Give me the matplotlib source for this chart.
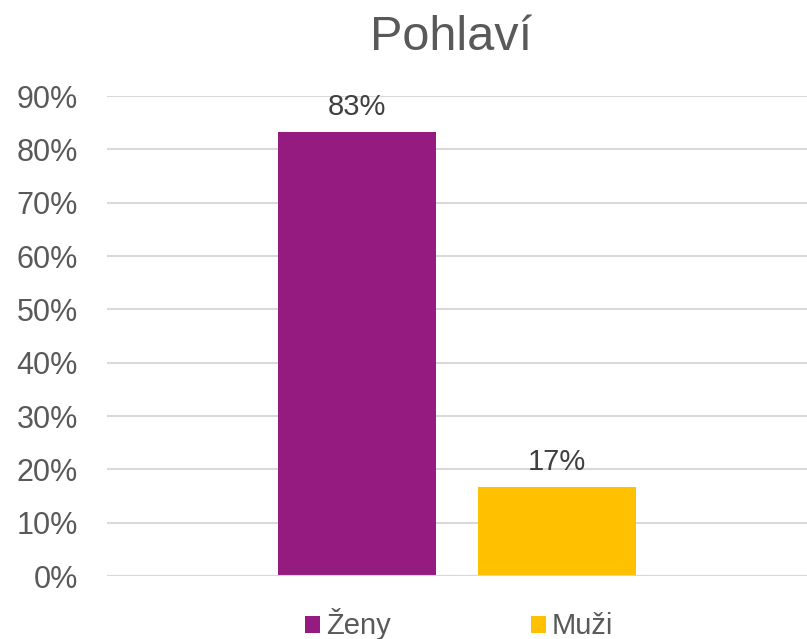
import matplotlib
matplotlib.use("Agg")
import matplotlib.pyplot as plt
from matplotlib.patches import Patch

title = "Pohlaví"
series = ["Ženy", "Muži"]
values = [0.833, 0.167]
labels = ["83%", "17%"]
colors = ["#951B81", "#FFC000"]
yticks = [0, 0.1, 0.2, 0.3, 0.4, 0.5, 0.6, 0.7, 0.8, 0.9]
ytick_labels = ["0%", "10%", "20%", "30%", "40%", "50%", "60%", "70%", "80%", "90%"]

plt.rcParams['font.family'] = ['Liberation Sans', 'DejaVu Sans']

W, H = 807, 639
fig = plt.figure(figsize=(W / 100, H / 100), dpi=100)
ax = fig.add_axes([107 / W, 1 - 576 / H, 700 / W, 480 / H])

offsets = [-0.286, 0.286]
width = 0.451
for off, v, lab, c in zip(offsets, values, labels, colors):
    ax.bar(off, v, width=width, color=c, zorder=3)
    ax.annotate(lab, (off, v), xytext=(0, 12), textcoords="offset points",
                ha="center", va="baseline", fontsize=21, color="#404040")

ax.set_xlim(-1, 1)
ax.set_ylim(0, 0.9)
ax.set_yticks(yticks)
ax.set_yticklabels(ytick_labels, fontsize=22, color="#595959")
ax.set_xticks([])
ax.tick_params(axis="y", length=0, pad=21)
ax.grid(axis="y", color="#D9D9D9", linewidth=1.5, zorder=0)
ax.set_axisbelow(True)
for s in ax.spines.values():
    s.set_visible(False)
ax.axhline(0, color="#D9D9D9", linewidth=1.5, zorder=4)

fig.text(451 / W, 1 - 50 / H, title, ha="center", va="baseline",
         fontsize=35, color="#595959")

handles = [Patch(facecolor=c, edgecolor="none") for c in colors]
leg = fig.legend(handles, series, loc="lower center", bbox_to_anchor=(0.569, -0.025),
                 ncol=2, frameon=False, fontsize=21, handlelength=0.52, handleheight=0.52,
                 handletextpad=0.2, columnspacing=4.8, borderpad=0)
for t in leg.get_texts():
    t.set_color("#595959")

fig.savefig("out.png", dpi=100)
